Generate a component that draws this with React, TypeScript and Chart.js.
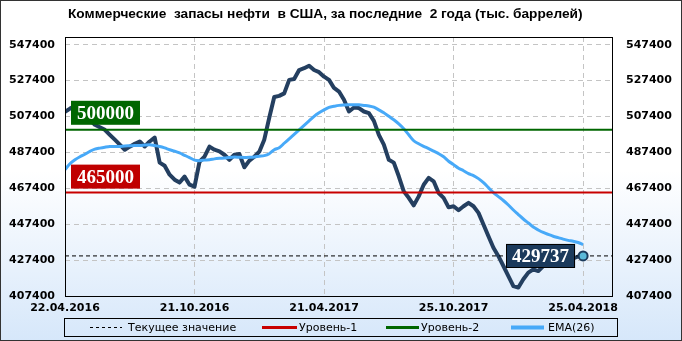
import { useEffect, useRef } from 'react';
import { Chart, registerables } from 'chart.js';

Chart.register(...registerables);

const titleText = 'Коммерческие  запасы нефти  в США, за последние  2 года (тыс. баррелей)';
const xTickIndex = [0, 26, 52, 78, 104];
const xTickLabels = ['22.04.2016', '21.10.2016', '21.04.2017', '25.10.2017', '25.04.2018'];
const yTicks = [407400, 427400, 447400, 467400, 487400, 507400, 527400, 547400];
const yMin = 407400;
const yMax = 551700;
const xMax = 110;

const level1 = 465000;
const level2 = 500000;
const currentValue = 429737;
const currentIndex = 104;

const stocks = [
  510000, 511800, 513300, 511700, 508900, 505600, 502800, 501400, 500000, 497200,
  494500, 491700, 488900, 490600, 492200, 493500, 490700, 493500, 495700, 481700,
  480000, 475000, 472200, 470600, 473900, 469400, 468300, 482200, 485000, 490600,
  488900, 488000, 486100, 483300, 486100, 486500, 479100, 482800, 485000, 487800,
  494500, 506700, 518300, 518900, 520300, 527800, 528300, 533300, 534300, 535700,
  533300, 532100, 529600, 527800, 523300, 521300, 516700, 510200, 512400, 512100,
  510200, 509300, 505000, 497200, 491700, 483300, 481700, 474100, 465700, 462100,
  457900, 462900, 469400, 473200, 471300, 464800, 462100, 456800, 457400, 455200,
  457400, 459300, 457400, 453700, 447200, 440700, 434300, 429600, 424100, 418500,
  412900, 412100, 416700, 420400, 422200, 421300, 424100, 426800, 426700, 427800,
  426700, 428900, 428300, 429400, 429737,
];

const ema26 = [
  477800, 481100, 483300, 485000, 486400, 488000, 489200, 489800, 490300, 490700,
  490700, 490700, 491000, 491100, 491200, 491300, 491500, 491700, 491200, 490700,
  489900, 488900, 488100, 487100, 485800, 484500, 483100, 482800, 483100, 483300,
  483800, 484100, 484300, 484600, 484800, 484700, 484600, 484700, 484900, 485300,
  485600, 486700, 488900, 490000, 492500, 495000, 497500, 500000, 502500, 505000,
  507500, 509500, 511100, 512500, 513100, 513600, 513800, 513900, 513900, 513900,
  513600, 513300, 512600, 511100, 509500, 507500, 505600, 503300, 500600, 497200,
  493900, 492200, 490800, 489500, 488100, 486700, 485000, 482500, 480600, 478600,
  477200, 475600, 474500, 472800, 470600, 467800, 465000, 462800, 460600, 458100,
  455300, 452800, 450300, 448100, 445800, 444200, 442800, 441700, 440700, 439900,
  439100, 438400, 437900, 437200, 436100,
];

const legendItems = [
  { label: 'Текущее значение', color: '#000000', width: 1, dash: [3, 3], x0: 90, x1: 122, tx: 128 },
  { label: 'Уровень-1', color: '#c80000', width: 3, dash: [], x0: 262, x1: 297, tx: 299 },
  { label: 'Уровень-2', color: '#006600', width: 3, dash: [], x0: 386, x1: 419, tx: 421 },
  { label: 'EMA(26)', color: '#47a9f8', width: 4, dash: [], x0: 511, x1: 544, tx: 548 },
];

const tickFont = { family: 'DejaVu Sans', size: 11, weight: 'bold' as const };

function drawBox(ctx: CanvasRenderingContext2D, text: string, x: number, yBottom: number, fill: string, alignRight: boolean, outline: boolean) {
  ctx.save();
  ctx.font = 'bold 19px "Liberation Serif"';
  const w = ctx.measureText(text).width + 12;
  const h = 24;
  const left = alignRight ? x - w : x;
  const top = yBottom - h;
  ctx.fillStyle = fill;
  ctx.fillRect(left, top, w, h);
  if (outline) {
    ctx.strokeStyle = '#000000';
    ctx.lineWidth = 1;
    ctx.strokeRect(Math.round(left) + 0.5, Math.round(top) + 0.5, Math.round(w) - 1, h - 1);
  }
  ctx.fillStyle = '#ffffff';
  ctx.textAlign = 'center';
  ctx.textBaseline = 'middle';
  ctx.fillText(text, left + w / 2, top + h / 2 + 1);
  ctx.restore();
}

const bgPlugin = {
  id: 'bgPlugin',
  beforeDraw(chart: any) {
    const ctx = chart.ctx as CanvasRenderingContext2D;
    const g = ctx.createLinearGradient(0, 0, 0, chart.height);
    g.addColorStop(0, '#ffffff');
    g.addColorStop(0.5, '#ffffff');
    g.addColorStop(1, '#d6e7fa');
    ctx.save();
    ctx.fillStyle = g;
    ctx.fillRect(0, 0, chart.width, chart.height);
    ctx.restore();
  },
};

const decorPlugin = {
  id: 'decorPlugin',
  afterDatasetsDraw(chart: any) {
    const ctx = chart.ctx as CanvasRenderingContext2D;
    const { left, right, top, bottom } = chart.chartArea;
    const xs = chart.scales.x;
    const ys = chart.scales.y;

    ctx.save();
    ctx.strokeStyle = '#000000';
    ctx.lineWidth = 1;
    ctx.strokeRect(left + 0.5, top + 0.5, right - left - 1, bottom - top);
    ctx.restore();

    drawBox(ctx, String(level2), left + 6, ys.getPixelForValue(level2) - 5, '#006600', false, false);
    drawBox(ctx, String(level1), left + 6, ys.getPixelForValue(level1) - 4, '#c00000', false, false);
    const cy = ys.getPixelForValue(currentValue);
    drawBox(ctx, String(currentValue), xs.getPixelForValue(currentIndex) - 8, cy + 12, '#1b3a5c', true, true);
  },
  afterDraw(chart: any) {
    const ctx = chart.ctx as CanvasRenderingContext2D;
    ctx.save();
    ctx.fillStyle = '#000000';
    ctx.font = 'bold 13.7px "Liberation Sans"';
    ctx.textAlign = 'left';
    ctx.textBaseline = 'middle';
    ctx.fillText(titleText, 68, 14);

    ctx.strokeStyle = '#000000';
    ctx.lineWidth = 1;
    ctx.strokeRect(64.5, 318.5, 553, 18);
    ctx.font = '11px "DejaVu Sans"';
    for (const it of legendItems) {
      ctx.beginPath();
      ctx.setLineDash(it.dash);
      ctx.strokeStyle = it.color;
      ctx.lineWidth = it.width;
      ctx.moveTo(it.x0, 327.5);
      ctx.lineTo(it.x1, 327.5);
      ctx.stroke();
      ctx.setLineDash([]);
      ctx.fillStyle = '#000000';
      ctx.fillText(it.label, it.tx, 328);
    }

    ctx.strokeStyle = '#333333';
    ctx.lineWidth = 1;
    ctx.strokeRect(0.5, 0.5, chart.width - 1, chart.height - 1);
    ctx.restore();
  },
};

export default function App() {
  const ref = useRef<HTMLCanvasElement | null>(null);

  useEffect(() => {
    if (!ref.current) return;
    const hLine = (v: number) => [{ x: 0, y: v }, { x: xMax, y: v }];
    const chart = new Chart(ref.current, {
      type: 'line',
      data: {
        datasets: [
          {
            label: 'current-point',
            data: [{ x: currentIndex, y: currentValue }],
            showLine: false,
            pointRadius: 4.5,
            pointBackgroundColor: '#5ab9d9',
            pointBorderColor: '#1b3a5c',
            pointBorderWidth: 2,
            order: 0,
          },
          {
            label: 'Уровень-2',
            data: hLine(level2),
            borderColor: '#006600',
            borderWidth: 2,
            pointRadius: 0,
            order: 1,
          },
          {
            label: 'Уровень-1',
            data: hLine(level1),
            borderColor: '#c80000',
            borderWidth: 2,
            pointRadius: 0,
            order: 1,
          },
          {
            label: 'EMA(26)',
            data: ema26.map((v, i) => ({ x: i, y: v })),
            borderColor: '#47a9f8',
            borderWidth: 3,
            pointRadius: 0,
            tension: 0.3,
            order: 2,
          },
          {
            label: 'Текущее значение',
            data: hLine(currentValue),
            borderColor: '#000000',
            borderWidth: 1,
            borderDash: [4, 3],
            pointRadius: 0,
            order: 3,
          },
          {
            label: 'stocks',
            data: stocks.map((v, i) => ({ x: i, y: v })),
            borderColor: '#243f60',
            borderWidth: 4,
            borderJoinStyle: 'round',
            borderCapStyle: 'round',
            pointRadius: 0,
            tension: 0,
            order: 4,
          },
        ],
      },
      options: {
        animation: false,
        responsive: false,
        devicePixelRatio: 1,
        parsing: false,
        layout: { padding: { top: 37, left: 0, right: 0, bottom: 0 } },
        plugins: {
          legend: { display: false },
          title: { display: false },
          tooltip: { enabled: false },
        },
        scales: {
          x: {
            type: 'linear',
            min: 0,
            max: xMax,
            afterBuildTicks: (s: any) => {
              s.ticks = xTickIndex.map((v) => ({ value: v }));
            },
            afterFit: (s: any) => {
              s.height = 45;
            },
            ticks: {
              autoSkip: false,
              maxRotation: 0,
              padding: 6,
              color: '#000000',
              font: tickFont,
              callback: (v: any) => {
                const k = xTickIndex.indexOf(Number(v));
                return k >= 0 ? xTickLabels[k] : '';
              },
            },
            grid: {
              drawTicks: false,
              lineWidth: 1,
              color: (c: any) => (c.tick && c.tick.value === 0 ? 'rgba(0,0,0,0)' : '#c4c4c4'),
            },
            border: { display: false, dash: [5, 4] },
          },
          y: {
            type: 'linear',
            position: 'left',
            min: yMin,
            max: yMax,
            afterBuildTicks: (s: any) => {
              s.ticks = yTicks.map((v) => ({ value: v }));
            },
            afterFit: (s: any) => {
              s.width = 65;
            },
            ticks: {
              padding: 10,
              color: '#000000',
              font: tickFont,
              callback: (v: any) => String(v),
            },
            grid: { drawTicks: false, lineWidth: 1, color: '#c4c4c4' },
            border: { display: false, dash: [5, 4] },
          },
          y2: {
            type: 'linear',
            position: 'right',
            min: yMin,
            max: yMax,
            afterBuildTicks: (s: any) => {
              s.ticks = yTicks.map((v) => ({ value: v }));
            },
            afterFit: (s: any) => {
              s.width = 69;
            },
            ticks: {
              padding: 13,
              color: '#000000',
              font: tickFont,
              callback: (v: any) => String(v),
            },
            grid: { display: false, drawTicks: false },
            border: { display: false },
          },
        },
      },
      plugins: [bgPlugin, decorPlugin],
    } as any);
    return () => chart.destroy();
  }, []);

  return (
    <div style={{ position: 'fixed', left: 0, top: 0, width: 682, height: 341 }}>
      <canvas ref={ref} width={682} height={341} style={{ display: 'block', width: 682, height: 341 }} />
    </div>
  );
}
